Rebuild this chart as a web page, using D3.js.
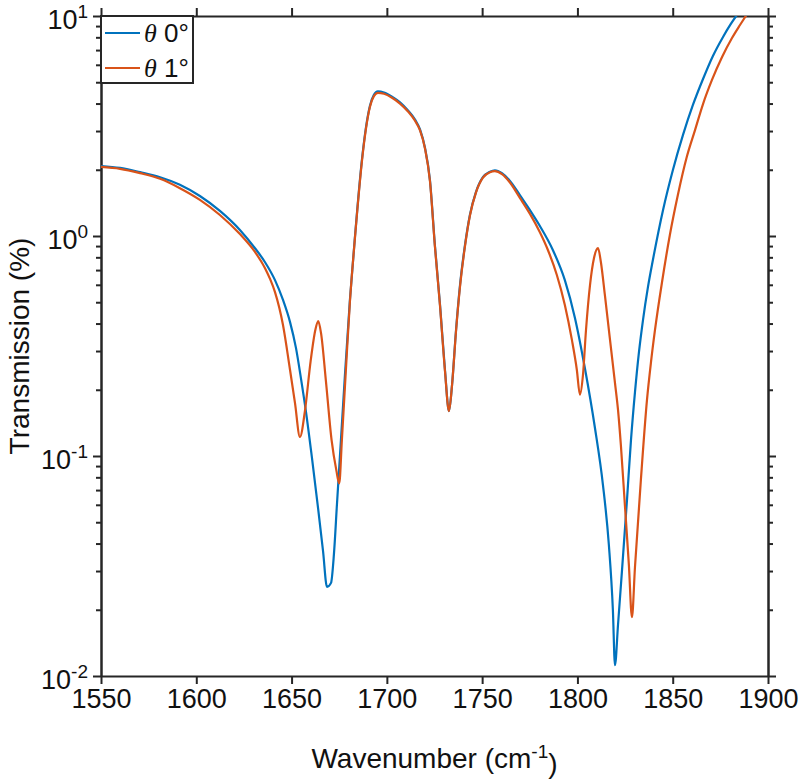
<!DOCTYPE html>
<html><head><meta charset="utf-8">
<script src="https://cdn.jsdelivr.net/npm/d3@7"></script>
<style>body{margin:0;background:#fff}</style>
</head><body>
<svg id="c" width="799" height="779"></svg>
<script>
const xTicks = [1550,1600,1650,1700,1750,1800,1850,1900];
const yTicks = [0.01,0.1,1,10];
const yTickExp = ["-2","-1","0","1"];
const seriesNames = ["0°","1°"];
const w0 = [1550,1560,1570.5,1581,1591.4,1601.9,1612.4,1622.9,1630.8,1636.0,1641.3,1645.5,1649.2,1652.3,1654.9,1657.6,1660.7,1663.9,1666.5,1668.6,1670.7,1672.2,1673.8,1675.9,1678,1680.6,1683.3,1686.9,1689,1691.1,1693.2,1695.3,1698.5,1702.7,1706.9,1711.1,1714.7,1717.4,1720,1722.6,1725.2,1727.9,1730.5,1732.6,1734.2,1736.3,1738.4,1741,1743.6,1746.7,1750.4,1754.1,1756.7,1760.4,1764.6,1769.8,1775.1,1780.3,1787.1,1793.4,1798.7,1803.9,1809.2,1813.4,1816.5,1818.6,1819.7,1821.3,1823.4,1826,1828.1,1830.2,1832.3,1834.4,1837,1839.6,1844.9,1850.1,1855.4,1860.6,1865.9,1871.1,1876.4,1880.5,1884.7,1890];
const t0 = [2.08,2.04,1.95,1.85,1.71,1.52,1.30,1.065,0.88,0.762,0.63,0.512,0.406,0.31,0.226,0.158,0.098,0.058,0.037,0.0254,0.0265,0.0355,0.06,0.118,0.233,0.51,1.0,2.21,3.10,3.90,4.38,4.54,4.49,4.30,4.05,3.72,3.39,3.05,2.52,1.80,0.91,0.486,0.246,0.16,0.21,0.374,0.60,0.91,1.25,1.58,1.85,1.96,1.99,1.93,1.78,1.535,1.31,1.11,0.864,0.63,0.424,0.251,0.134,0.0738,0.0394,0.02,0.0112,0.0171,0.0303,0.063,0.118,0.195,0.297,0.415,0.586,0.778,1.31,1.995,2.88,3.94,5.17,6.58,8.03,9.2,10.4,12];
const w1 = [1550,1560,1570.5,1581,1591.4,1601.9,1612.4,1622.9,1630.8,1636.0,1638.7,1641.3,1645.5,1649.2,1651.8,1654.4,1657,1660,1662.5,1664,1665.5,1668,1671,1673.5,1675,1676.4,1678.5,1680.6,1683.3,1686.9,1689,1691.1,1693.2,1695.3,1698.5,1702.7,1706.9,1711.1,1714.7,1717.4,1720,1722.6,1725.2,1727.9,1730.5,1732.6,1734.2,1736.3,1738.4,1741,1743.6,1746.7,1750.4,1754.1,1756.7,1760.4,1764.6,1769.8,1775.1,1780.3,1784.5,1789.2,1793.4,1797.1,1799.7,1801.3,1802.9,1804.5,1806.6,1808.7,1810.8,1812.3,1814.4,1817.1,1819.7,1821.3,1822.8,1824.9,1827,1828.6,1830.2,1833.3,1836.5,1838.6,1840.7,1844.4,1848.5,1852.7,1857.4,1861.7,1865.9,1870.6,1875.9,1881.1,1885.3,1889,1894];
const t1 = [2.06,2.02,1.93,1.82,1.65,1.46,1.246,1.02,0.846,0.716,0.638,0.556,0.394,0.246,0.174,0.122,0.16,0.27,0.375,0.41,0.36,0.22,0.118,0.086,0.075,0.118,0.246,0.50,0.99,2.18,3.06,3.86,4.32,4.47,4.43,4.25,4.0,3.68,3.35,3.02,2.5,1.78,0.9,0.48,0.243,0.16,0.21,0.37,0.59,0.9,1.24,1.57,1.84,1.95,1.97,1.91,1.75,1.49,1.26,1.04,0.864,0.665,0.486,0.337,0.246,0.19,0.233,0.374,0.598,0.794,0.88,0.762,0.54,0.337,0.215,0.162,0.112,0.0599,0.032,0.0185,0.0313,0.078,0.18,0.267,0.374,0.618,1.01,1.535,2.29,3.03,3.98,5.12,6.51,7.94,9.1,10.2,12];

const svg = d3.select("#c");
const L=101,R=768,T=16,B=676;
const x = d3.scaleLinear().domain([1550,1900]).range([L,R]);
const y = d3.scaleLog().domain([0.01,10]).range([B,T]);
const font = "'Liberation Sans', Arial, sans-serif";
const axColor = "#262626";

svg.append("clipPath").attr("id","cp").append("rect").attr("x",L).attr("y",T).attr("width",R-L).attr("height",B-T);

const minor = [];
[0.01,0.1,1].forEach(d=>{for(let k=2;k<=9;k++) minor.push(d*k);});

function styleAxis(g){
  g.selectAll(".domain").attr("stroke",axColor).attr("stroke-width",2);
  g.selectAll(".tick line").attr("stroke",axColor).attr("stroke-width",2);
}
const gb = svg.append("g").attr("transform",`translate(0,${B})`)
  .call(d3.axisBottom(x).tickValues(xTicks).tickSize(8).tickSizeOuter(0).tickFormat(d3.format("d")));
gb.selectAll(".tick text").attr("font-family",font).attr("font-size",27).attr("fill","#111").attr("dy","0.95em").attr("y",6);
styleAxis(gb);
const gt = svg.append("g").attr("transform",`translate(0,${T})`)
  .call(d3.axisTop(x).tickValues(xTicks).tickSize(8).tickSizeOuter(0).tickFormat(""));
styleAxis(gt);
const glm = svg.append("g").attr("transform",`translate(${L},0)`)
  .call(d3.axisLeft(y).tickValues(minor).tickSize(5).tickSizeOuter(0).tickFormat(""));
styleAxis(glm);
const grm = svg.append("g").attr("transform",`translate(${R},0)`)
  .call(d3.axisRight(y).tickValues(minor).tickSize(5).tickSizeOuter(0).tickFormat(""));
styleAxis(grm);
const gl = svg.append("g").attr("transform",`translate(${L},0)`)
  .call(d3.axisLeft(y).tickValues(yTicks).tickSize(8).tickSizeOuter(0).tickFormat(""));
styleAxis(gl);
gl.selectAll(".tick").each(function(d,i){
  const t = d3.select(this).append("text").attr("x",-13).attr("y",0).attr("dy","0.45em")
    .attr("text-anchor","end").attr("font-family",font).attr("font-size",27).attr("fill","#111");
  t.append("tspan").text("10");
  t.append("tspan").attr("dy","-0.55em").attr("font-size",19).text(yTickExp[i]);
});
const gr = svg.append("g").attr("transform",`translate(${R},0)`)
  .call(d3.axisRight(y).tickValues(yTicks).tickSize(8).tickSizeOuter(0).tickFormat(""));
styleAxis(gr);

const line = d3.line().x(d=>x(d[0])).y(d=>y(d[1])).curve(d3.curveMonotoneX);
const cols = ["#0072BD","#D95319"];
const data = [w0.map((w,i)=>[w,t0[i]]), w1.map((w,i)=>[w,t1[i]])];
data.forEach((dd,i)=>{
  svg.append("path").datum(dd).attr("clip-path","url(#cp)").attr("d",line)
    .attr("fill","none").attr("stroke",cols[i]).attr("stroke-width",2.2).attr("stroke-linejoin","round");
});

const lg = svg.append("g");
lg.append("rect").attr("x",L).attr("y",T).attr("width",92).attr("height",67).attr("fill","#fff").attr("stroke",axColor).attr("stroke-width",2);
seriesNames.forEach((n,i)=>{
  const cy = 33 + i*35;
  lg.append("line").attr("x1",105).attr("x2",140).attr("y1",cy).attr("y2",cy).attr("stroke",cols[i]).attr("stroke-width",2.2);
  const t = lg.append("text").attr("x",144).attr("y",cy).attr("dy","0.36em").attr("font-size",26).attr("fill","#111");
  t.append("tspan").attr("font-family","'Liberation Serif', 'Times New Roman', serif").attr("font-style","italic").text("θ");
  t.append("tspan").attr("font-family",font).text(" "+n);
});

svg.append("text").attr("transform",`translate(29,${(T+B)/2}) rotate(-90)`).attr("text-anchor","middle")
  .attr("font-family",font).attr("font-size",28).attr("fill","#111").text("Transmission (%)");
const xt = svg.append("text").attr("x",(L+R)/2).attr("y",768).attr("text-anchor","middle")
  .attr("font-family",font).attr("font-size",28).attr("fill","#111");
xt.append("tspan").text("Wavenumber (cm");
xt.append("tspan").attr("dy","-0.55em").attr("font-size",19).text("-1");
xt.append("tspan").attr("dy","0.55em").text(")");
</script>
</body></html>
